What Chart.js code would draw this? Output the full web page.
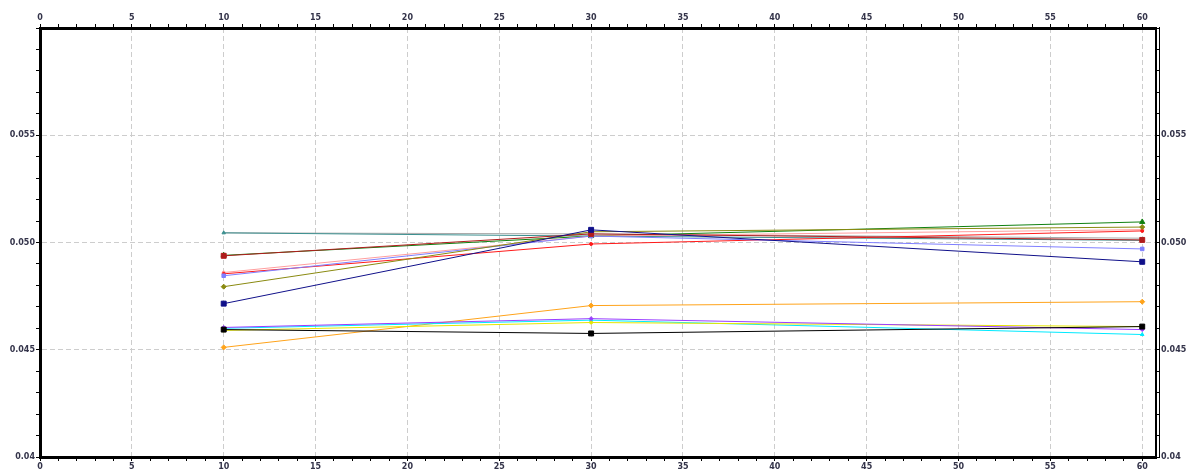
<!DOCTYPE html>
<html>
<head>
<meta charset="utf-8">
<script src="https://cdn.jsdelivr.net/npm/chart.js@4/dist/chart.umd.min.js"></script>
<style>
html,body{margin:0;padding:0;background:#fff;}
canvas{display:block;}
</style>
</head>
<body>
<canvas id="c" width="1197" height="476"></canvas>
<script>
// ---- data ----
const xValues = [10, 30, 60];
const xTicks = Array.from({length: 61}, (_, i) => i);
const yTicks = Array.from({length: 21}, (_, i) => Math.round((0.040 + i * 0.001) * 1000) / 1000);
const yTickLabels = {"0.04": "0.04", "0.045": "0.045", "0.05": "0.050", "0.055": "0.055"};

const sGray      = [0.05045, 0.05040, 0.05020];
const sTeal      = [0.05045, 0.05030, 0.05010];
const sDarkRed   = [0.04938, 0.05040, 0.05012];
const sGreen     = [0.04940, 0.05030, 0.05096];
const sPink      = [0.04860, 0.05030, 0.05060];
const sRed       = [0.04854, 0.04993, 0.05054];
const sBlueLight = [0.04845, 0.05030, 0.04970];
const sOlive     = [0.04794, 0.05050, 0.05072];
const sNavy      = [0.04715, 0.05059, 0.04910];
const sOrange    = [0.04511, 0.04706, 0.04724];
const sPurple    = [0.04604, 0.04645, 0.04594];
const sCyan      = [0.04600, 0.04638, 0.04571];
const sYellow    = [0.04590, 0.04627, 0.04608];
const sBlack     = [0.04594, 0.04576, 0.04608];

function pts(arr){ return arr.map((v, i) => ({x: xValues[i], y: v})); }
function ds(label, arr, color, style, radius){
  return {label, data: pts(arr), borderColor: color, backgroundColor: color,
    borderWidth: 1, pointStyle: style, pointRadius: radius, pointBorderWidth: 1,
    xAxisID: 'x', yAxisID: 'y', tension: 0};
}

// listed bottom-most first; reversed below so later ones are drawn on top
const datasets = [
  ds('gray', sGray, '#a8a8a8', 'circle', 0),
  ds('teal', sTeal, '#3b8f8f', 'triangle', 2),
  ds('green', sGreen, '#108010', 'triangle', 3),
  ds('pink', sPink, '#ff9e9e', 'circle', 1.5),
  ds('red', sRed, '#ff1a1a', 'circle', 1.5),
  ds('blueLight', sBlueLight, '#7f7fff', 'rect', 2.5),
  ds('olive', sOlive, '#8a8a10', 'rectRot', 2.5),
  ds('darkRed', sDarkRed, '#b01c1c', 'rect', 3.5),
  ds('navy', sNavy, '#10108a', 'rect', 3.5),
  ds('orange', sOrange, '#ffa31a', 'rectRot', 2.5),
  ds('cyan', sCyan, '#00eaff', 'triangle', 2),
  ds('yellow', sYellow, '#e6e600', 'circle', 1.5),
  ds('purple', sPurple, '#9a3dff', 'rectRot', 2),
  ds('black', sBlack, '#000000', 'rect', 3.5)
].reverse();

const tickFont = {family: 'DejaVu Sans', size: 8, weight: 'bold'};
const tickColor = '#34344a';

function xScale(position, onArea, h){
  return {
    type: 'linear', position, min: 0, max: 60.75,
    afterBuildTicks: s => { s.ticks = xTicks.map(v => ({value: v})); },
    afterFit: s => { s.height = h; },
    ticks: {autoSkip: false, maxRotation: 0, minRotation: 0, padding: 1,
      font: tickFont, color: tickColor,
      callback: v => (v % 5 === 0 ? String(v) : '')},
    grid: {display: true, drawOnChartArea: onArea, drawTicks: true, tickLength: 4,
      tickColor: '#000', tickWidth: 1, lineWidth: 1,
      color: c => (c.tick && c.tick.value % 5 === 0 && c.tick.value > 0 ? '#cdcdcd' : 'rgba(0,0,0,0)')},
    border: {display: true, color: '#000', width: 3, dash: [5, 3]}
  };
}
function yScale(position, onArea, w){
  return {
    type: 'linear', position, min: 0.04, max: 0.06,
    afterBuildTicks: s => { s.ticks = yTicks.map(v => ({value: v})); },
    afterFit: s => { s.width = w; },
    ticks: {autoSkip: false, padding: 1, font: tickFont, color: tickColor,
      callback: v => (yTickLabels[String(Math.round(v * 1000) / 1000)] || '')},
    grid: {display: true, drawOnChartArea: onArea, drawTicks: true, tickLength: 4,
      tickColor: '#000', tickWidth: 1, lineWidth: 1,
      color: c => { if (!c.tick) return 'rgba(0,0,0,0)'; const k = Math.round(c.tick.value * 1000);
        return (k % 5 === 0 && k > 40 && k < 60) ? '#cdcdcd' : 'rgba(0,0,0,0)'; }},
    border: {display: true, color: '#000', width: position === 'left' ? 3 : 2, dash: [5, 3]}
  };
}

const doubleRight = {
  id: 'doubleRight',
  afterDraw(chart){
    const a = chart.chartArea, ctx = chart.ctx;
    ctx.save();
    ctx.strokeStyle = '#000'; ctx.lineWidth = 1;
    ctx.beginPath();
    ctx.moveTo(a.right + 3.5, a.top - 1);
    ctx.lineTo(a.right + 3.5, a.bottom + 1);
    ctx.stroke();
    ctx.restore();
  }
};

new Chart(document.getElementById('c'), {
  type: 'line',
  data: {datasets},
  options: {
    responsive: false, animation: false, devicePixelRatio: 1,
    layout: {padding: 0},
    plugins: {legend: {display: false}, tooltip: {enabled: false}, title: {display: false}},
    scales: {
      x: xScale('bottom', true, 19),
      x2: xScale('top', false, 28),
      y: yScale('left', true, 40),
      y2: yScale('right', false, 41)
    }
  },
  plugins: [doubleRight]
});
</script>
</body>
</html>
